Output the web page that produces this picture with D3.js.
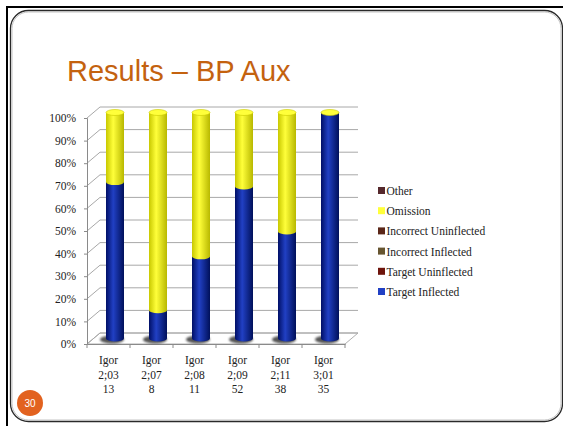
<!DOCTYPE html>
<html>
<head>
<meta charset="utf-8">
<script src="https://cdn.jsdelivr.net/npm/d3@7"></script>
<style>
  html, body { margin: 0; padding: 0; background: #fff; }
  svg { display: block; }
  .serif { font-family: "Liberation Serif", "DejaVu Serif", serif; fill: #222; }
</style>
</head>
<body>
<div id="chart"></div>
<script>
// Categories (child, age, number of contexts)
const children = ["Igor", "Igor", "Igor", "Igor", "Igor", "Igor"];
const ages = ["2;03", "2;07", "2;08", "2;09", "2;11", "3;01"];
const totals = [13, 8, 11, 52, 38, 35];

// Counts per response type
const targetInflected = [9, 1, 4, 35, 18, 35];
const targetUninflected = [0, 0, 0, 0, 0, 0];
const incorrectInflected = [0, 0, 0, 0, 0, 0];
const incorrectUninflected = [0, 0, 0, 0, 0, 0];
const omission = [4, 7, 7, 17, 20, 0];
const other = [0, 0, 0, 0, 0, 0];

const seriesNames = ["Target Inflected", "Target Uninflected", "Incorrect Inflected",
  "Incorrect Uninflected", "Omission", "Other"];
const seriesCounts = [targetInflected, targetUninflected, incorrectInflected,
  incorrectUninflected, omission, other];
const yTicks = [0, 0.1, 0.2, 0.3, 0.4, 0.5, 0.6, 0.7, 0.8, 0.9, 1];

const colors = {
  "Target Inflected": ["#000f66", "#2140c4", "#00105a"],
  "Target Uninflected": ["#3a0502", "#6e140c", "#3a0502"],
  "Incorrect Inflected": ["#3a2e14", "#665530", "#3a2e14"],
  "Incorrect Uninflected": ["#2e1208", "#5a2618", "#2e1208"],
  "Omission": ["#c8c800", "#ffff3a", "#b8b800"],
  "Other": ["#2a1214", "#55282c", "#2a1214"]
};

function drawChart() {
  const W = 563, H = 426;
  const svg = d3.select("#chart").append("svg").attr("width", W).attr("height", H);
  const defs = svg.append("defs");

  // slide frame
  svg.append("path")
    .attr("d", "M7,426 V7 H563")
    .attr("fill", "none").attr("stroke", "#000").attr("stroke-width", 2);
  const r = 18;
  svg.append("rect")
    .attr("x", 10.5).attr("y", 10.5).attr("width", 552).attr("height", 411)
    .attr("rx", r).attr("ry", r)
    .attr("fill", "#fff").attr("stroke", "#2a2a2a").attr("stroke-width", 1.3);
  svg.append("rect")
    .attr("x", 12).attr("y", 12).attr("width", 549).attr("height", 408)
    .attr("rx", r - 1.5).attr("ry", r - 1.5)
    .attr("fill", "none").attr("stroke", "#b5b5b5").attr("stroke-width", 0.8);

  // title
  svg.append("text")
    .attr("x", 67).attr("y", 81)
    .style("font-family", "'Liberation Sans', Arial, sans-serif")
    .style("font-size", "29px")
    .attr("fill", "#c4620f")
    .text("Results \u2013 BP Aux");

  // page number
  svg.append("circle").attr("cx", 30).attr("cy", 403).attr("r", 13).attr("fill", "#e2621f");
  svg.append("text")
    .attr("x", 30).attr("y", 407)
    .attr("text-anchor", "middle")
    .style("font-family", "'Liberation Sans', Arial, sans-serif")
    .style("font-size", "10px")
    .attr("fill", "#fff")
    .text("30");

  // 3D plot geometry
  const left = 87, right = 345, bottom = 344, top = 118;
  const depth = { dx: 13, dy: -11 };

  const x = d3.scaleBand().domain(d3.range(ages.length)).range([left, right]);
  const y = d3.scaleLinear().domain([0, 1]).range([bottom, top]);

  const g = svg.append("g");

  // floor
  g.append("path")
    .attr("d", `M${left},${bottom} L${right},${bottom} L${right + depth.dx},${bottom + depth.dy} L${left + depth.dx},${bottom + depth.dy} Z`)
    .attr("fill", "none").attr("stroke", "#b0b0b0").attr("stroke-width", 1);

  // back wall gridlines and left wall diagonals
  yTicks.forEach(t => {
    const yf = y(t), yb = y(t) + depth.dy;
    g.append("line")
      .attr("x1", left + depth.dx).attr("x2", right + depth.dx)
      .attr("y1", yb).attr("y2", yb)
      .attr("stroke", "#a8a8a8").attr("stroke-width", 1);
    g.append("line")
      .attr("x1", left).attr("x2", left + depth.dx)
      .attr("y1", yf).attr("y2", yb)
      .attr("stroke", "#a8a8a8").attr("stroke-width", 1);
  });

  // y axis
  const yAxis = g.append("g")
    .attr("transform", `translate(${left},0)`)
    .call(d3.axisLeft(y).tickValues(yTicks).tickFormat(d3.format(".0%")).tickSize(3).tickPadding(8));
  yAxis.select(".domain").attr("stroke", "#8a8a8a");
  yAxis.selectAll(".tick line").attr("stroke", "#8a8a8a");
  yAxis.selectAll("text")
    .attr("class", "serif")
    .style("font-size", "11.5px")
    .attr("fill", "#222");

  // x axis front edge
  const xAxis = g.append("g")
    .attr("transform", `translate(0,${bottom})`)
    .call(d3.axisBottom(x).tickSize(0).tickFormat(""));
  xAxis.select(".domain").attr("stroke", "#8a8a8a");
  xAxis.selectAll(".tick").remove();
  d3.range(ages.length + 1).forEach(i => {
    const xx = left + i * x.step();
    g.append("line")
      .attr("x1", xx).attr("x2", xx)
      .attr("y1", bottom).attr("y2", bottom + 4)
      .attr("stroke", "#8a8a8a");
  });

  // category labels
  const labels = g.append("g").attr("class", "serif").style("font-size", "11.5px");
  ages.forEach((age, i) => {
    const cx = x(i) + x.bandwidth() / 2;
    const t = labels.append("text").attr("text-anchor", "middle").attr("x", cx).attr("y", 364);
    [children[i], age, String(totals[i])].forEach((line, k) => {
      t.append("tspan").attr("x", cx).attr("dy", k === 0 ? 0 : 14.5).text(line);
    });
  });

  // stacked shares
  const rows = ages.map((a, i) => {
    const row = {};
    seriesNames.forEach((s, k) => row[s] = seriesCounts[k][i] / totals[i]);
    return row;
  });
  const stacked = d3.stack().keys(seriesNames)(rows);

  // gradients
  seriesNames.forEach((s, k) => {
    const grad = defs.append("linearGradient").attr("id", "grad" + k)
      .attr("x1", "0%").attr("x2", "100%").attr("y1", "0%").attr("y2", "0%");
    grad.append("stop").attr("offset", "0%").attr("stop-color", colors[s][0]);
    grad.append("stop").attr("offset", "40%").attr("stop-color", colors[s][1]);
    grad.append("stop").attr("offset", "100%").attr("stop-color", colors[s][2]);
  });
  defs.append("filter").attr("id", "blur")
    .append("feGaussianBlur").attr("stdDeviation", 1.2);

  const barW = 18, ry = 3;
  const bars = g.append("g");
  const capColor = colors["Omission"];
  ages.forEach((a, i) => {
    const cx = x(i) + x.bandwidth() / 2 + depth.dx / 2;
    const yb = y(0) + depth.dy / 2;
    // shadow
    bars.append("ellipse")
      .attr("cx", cx - 3).attr("cy", yb + 1).attr("rx", barW / 2 + 3).attr("ry", ry + 1)
      .attr("fill", "#555").attr("filter", "url(#blur)");
    stacked.forEach((layer, k) => {
      const d = layer[i];
      if (d[1] - d[0] <= 0) return;
      const y0 = y(d[0]) + depth.dy / 2, y1 = y(d[1]) + depth.dy / 2;
      bars.append("rect")
        .attr("x", cx - barW / 2).attr("y", y1).attr("width", barW).attr("height", y0 - y1)
        .attr("fill", `url(#grad${k})`);
      bars.append("ellipse")
        .attr("cx", cx).attr("cy", y0).attr("rx", barW / 2).attr("ry", ry)
        .attr("fill", `url(#grad${k})`);
    });
    // top cap
    bars.append("ellipse")
      .attr("cx", cx).attr("cy", y(1) + depth.dy / 2).attr("rx", barW / 2).attr("ry", ry)
      .attr("fill", capColor[1])
      .attr("stroke", capColor[0]).attr("stroke-width", 0.6);
  });

  // legend
  const legend = g.append("g").attr("transform", "translate(378,195)");
  seriesNames.slice().reverse().forEach((s, i) => {
    const row = legend.append("g").attr("transform", `translate(0,${i * 20.2})`);
    row.append("rect").attr("x", 0).attr("y", -8).attr("width", 7).attr("height", 7)
      .attr("fill", colors[s][1]);
    row.append("text").attr("class", "serif").attr("x", 8.5).attr("y", 0)
      .style("font-size", "11.5px").text(s);
  });
}

window.addEventListener("load", drawChart);
</script>
</body>
</html>
